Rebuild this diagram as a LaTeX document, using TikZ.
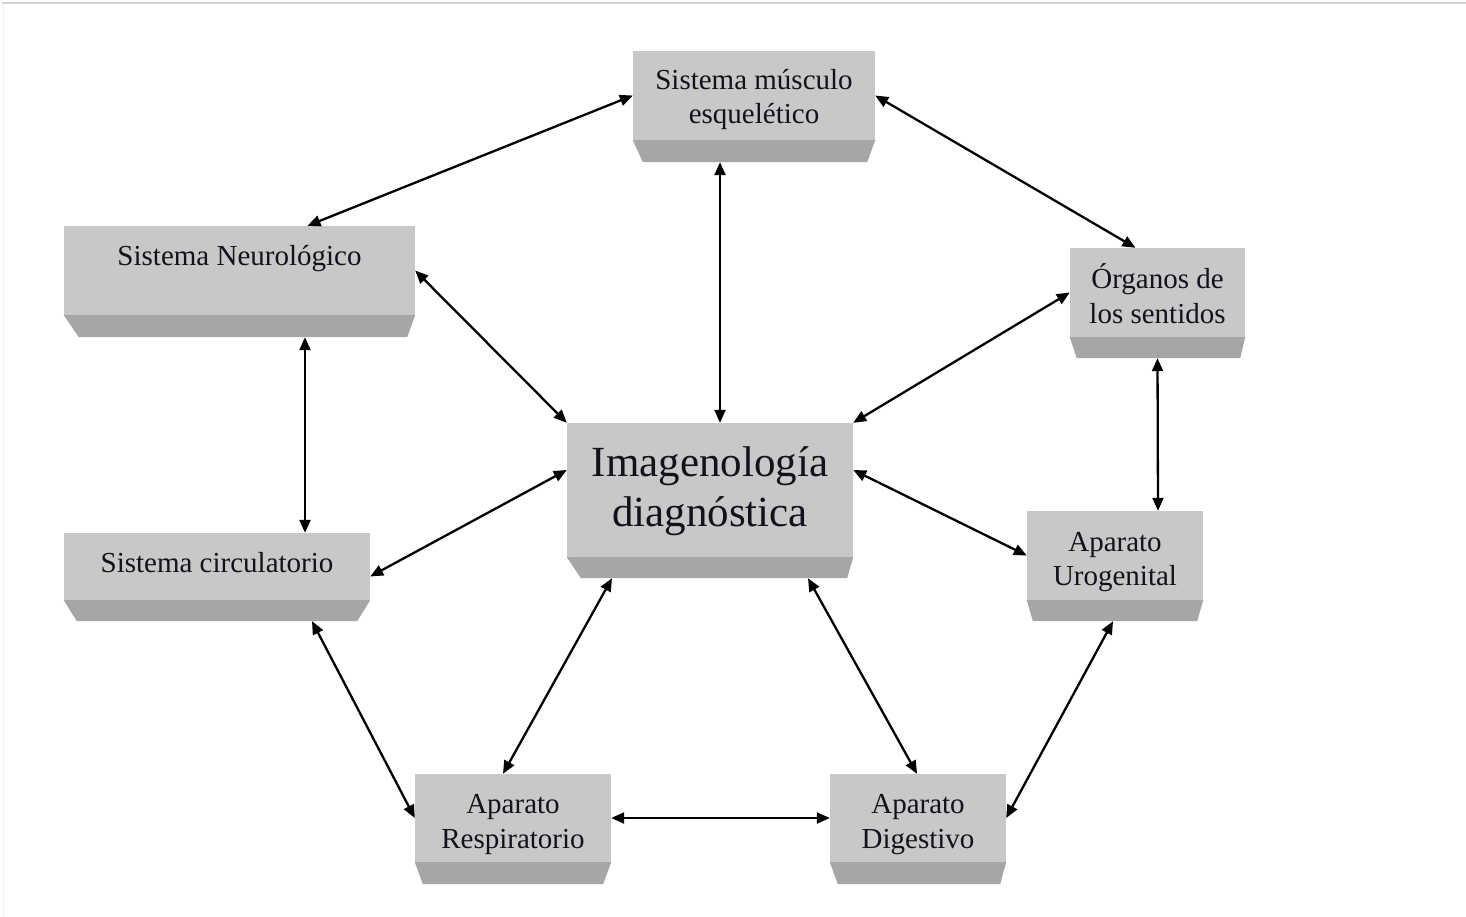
\documentclass[tikz,border=0pt]{standalone}
\usepackage{fontspec}
\setmainfont{Liberation Serif}
\usetikzlibrary{arrows.meta,calc}
\definecolor{facegray}{RGB}{200,200,200}
\definecolor{bevelgray}{RGB}{166,166,166}
\definecolor{txtcol}{RGB}{18,18,28}
\definecolor{rulegray}{RGB}{212,212,212}
\newcommand{\boxtext}[2]{\raisebox{#1}[\height][\depth]{\begin{tabular}{@{}c@{}}#2\end{tabular}}}
\tikzset{
  box/.style={rectangle, fill=facegray, inner sep=0pt, align=center, text=txtcol,
    font=\fontsize{29}{34.5}\selectfont},
  link/.style={line width=2.3pt, {Triangle[length=13pt,width=11pt]}-{Triangle[length=13pt,width=11pt]}}
}
\begin{document}
\begin{tikzpicture}[x=1pt,y=-1pt]
\useasboundingbox (0,0) rectangle (1466,917);
\fill[white] (0,0) rectangle (1466,917);
\draw[rulegray, line width=2pt] (2,3) -- (1466,3);
\draw[black!6, line width=1pt] (3,4) -- (3,917);

\node[box, minimum width=242pt, minimum height=89pt] (mus) at (754,95.5) {\boxtext{-4pt}{Sistema músculo\\esquelético}};
\node[box, minimum width=351pt, minimum height=89pt] (neu) at (239.5,270.5) {\raisebox{5.5pt}[0pt][0pt]{Sistema Neurológico}};
\node[box, minimum width=175pt, minimum height=89pt] (org) at (1157.5,292.5) {\boxtext{-6pt}{Órganos de\\los sentidos}};
\node[box, minimum width=286pt, minimum height=134pt, font=\fontsize{43}{50}\selectfont] (img) at (710,490) {\boxtext{-1pt}{Imagenología\\diagnóstica}};
\node[box, minimum width=306pt, minimum height=67pt] (cir) at (217,566.5) {\raisebox{-6pt}[0pt][0pt]{Sistema circulatorio}};
\node[box, minimum width=176pt, minimum height=89pt] (uro) at (1115,555.5) {\boxtext{-6pt}{Aparato\\Urogenital}};
\node[box, minimum width=196pt, minimum height=88pt] (res) at (513,818) {\boxtext{-6pt}{Aparato\\Respiratorio}};
\node[box, minimum width=176pt, minimum height=88pt] (dig) at (918,818) {\boxtext{-6pt}{Aparato\\Digestivo}};

\foreach \n/\d/\l/\r in {mus/22/10/8, neu/22/15/8, org/21/7/5, img/21/14/6, cir/21/13/13, uro/21/6/6, res/22/8/8, dig/22/8/6}{
  \fill[bevelgray] (\n.south west) -- (\n.south east) -- ($(\n.south east)+(-\r,\d)$) -- ($(\n.south west)+(\l,\d)$) -- cycle;
}

\draw[link] (mus.west) -- ($(neu.north)+(68,0)$);
\draw[link] (mus.east) -- ($(org.north)+(-22,0)$);
\draw[link] ($(mus.south)+(-34,22)$) -- ($(img.north)+(10,0)$);
\draw[link] (neu.east) -- (img.north west);
\draw[link] (org.west) -- (img.north east);
\draw[link] ($(neu.south)+(65.5,22)$) -- ($(cir.north)+(88,0)$);
\draw[link] ($(org.south)+(0,21)$) -- ($(uro.north)+(43,0)$);
\draw[link] ($(cir.east)+(0,10)$) -- ($(img.west)+(0,-20)$);
\draw[link] ($(img.east)+(0,-20)$) -- (uro.west);
\draw[link] ($(cir.south)+(95,21)$) -- (res.west);
\draw[link] ($(img.south)+(-98,21)$) -- ($(res.north)+(-10,0)$);
\draw[link] ($(img.south)+(98,21)$) -- ($(dig.north)+(-1,0)$);
\draw[link] ($(uro.south)+(-2,21)$) -- (dig.east);
\draw[link] (res.east) -- (dig.west);
\end{tikzpicture}
\end{document}
